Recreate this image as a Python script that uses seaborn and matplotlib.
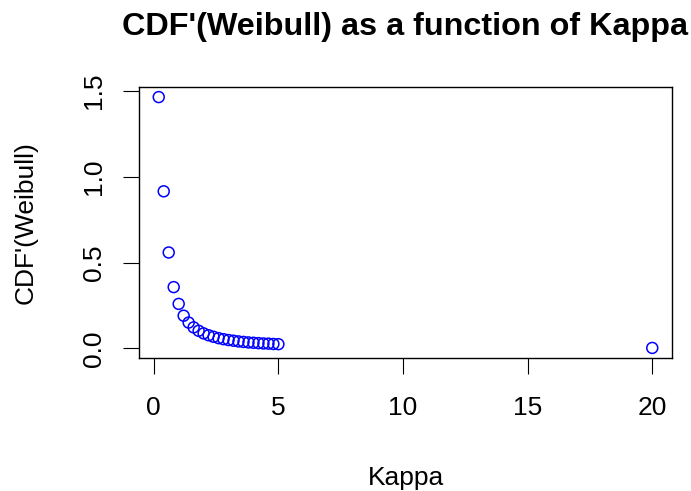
import matplotlib
matplotlib.use("Agg")
import matplotlib.pyplot as plt
import seaborn as sns
import pandas as pd

# Shape parameter values and the corresponding CDF derivative
kappa = [0.2, 0.4, 0.6, 0.8, 1.0, 1.2, 1.4, 1.6, 1.8, 2.0,
         2.2, 2.4, 2.6, 2.8, 3.0, 3.2, 3.4, 3.6, 3.8, 4.0,
         4.2, 4.4, 4.6, 4.8, 5.0, 20.0]
cdf_prime = [1.466, 0.916, 0.559, 0.357, 0.259, 0.190, 0.150, 0.122, 0.102, 0.087,
             0.076, 0.067, 0.059, 0.053, 0.048, 0.044, 0.040, 0.037, 0.034, 0.032,
             0.030, 0.028, 0.027, 0.025, 0.024, 0.002]

x_ticks = [0, 5, 10, 15, 20]
y_ticks = [0.0, 0.5, 1.0, 1.5]
y_tick_labels = ["0.0", "0.5", "1.0", "1.5"]

df = pd.DataFrame({"Kappa": kappa, "CDF": cdf_prime})

sns.set_style("ticks")
plt.rcParams["font.family"] = ["Liberation Sans", "DejaVu Sans"]

fig = plt.figure(figsize=(6.91, 4.91), dpi=100)
ax = fig.add_axes([139 / 691, 1 - 358 / 491, 533 / 691, 271 / 491])

sns.scatterplot(data=df, x="Kappa", y="CDF", ax=ax, marker="o", s=62,
                facecolors="none", edgecolor="#0000FF", linewidth=1.1)

ax.set_xlim(-0.592, 20.792)
ax.set_ylim(-0.0568, 1.5248)
ax.set_xticks(x_ticks)
ax.set_xticklabels([str(t) for t in x_ticks])
ax.set_yticks(y_ticks)
ax.set_yticklabels(y_tick_labels, rotation=90, va="center")

for side in ["top", "right", "bottom", "left"]:
    ax.spines[side].set_visible(True)
    ax.spines[side].set_linewidth(1.0)
    ax.spines[side].set_color("black")

ax.tick_params(axis="both", direction="out", length=11.5, width=0.8,
               color="black", labelsize=19, labelcolor="black")
ax.tick_params(axis="x", pad=16.2)
ax.tick_params(axis="y", pad=12.6)

ax.set_xlabel("Kappa", fontsize=19, color="black")
ax.xaxis.label.set_va("baseline")
ax.xaxis.set_label_coords(0.5, (358 - 485) / 271)

ax.set_ylabel("CDF'(Weibull)", fontsize=19, color="black")
ax.yaxis.label.set_va("center")
ax.yaxis.set_label_coords((26 - 139) / 533, 0.5)

ax.set_title("CDF'(Weibull) as a function of Kappa", fontsize=23.3,
             fontweight="bold", color="black", y=(358 - 35) / 271,
             va="baseline", pad=0)

fig.savefig("out.png", dpi=100, facecolor="white")
